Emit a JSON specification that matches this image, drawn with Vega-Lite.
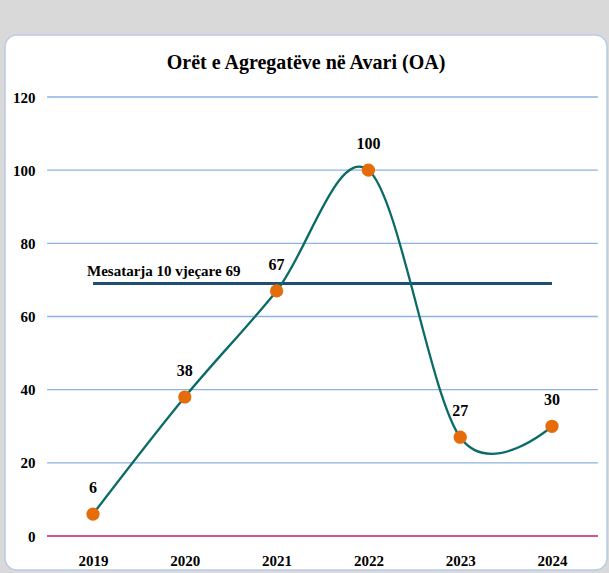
{
  "$schema": "https://vega.github.io/schema/vega-lite/v6.json",
  "width": 602,
  "height": 535,
  "autosize": {"type": "none"},
  "padding": {"left": 5, "top": 35, "right": 2, "bottom": 3},
  "background": "#d9d9d9",
  "view": {"fill": "#ffffff", "stroke": "#b8cce4", "strokeWidth": 1.5, "cornerRadius": 12},
  "config": {
    "font": "Liberation Serif",
    "axis": {"labelFont": "Liberation Serif", "labelFontWeight": "bold", "labelFontSize": 15, "labelColor": "#000000", "grid": false, "domain": false, "ticks": false, "tickSize": 0, "title": null}
  },
  "title": {
    "text": "Orët e Agregatëve në Avari (OA)",
    "font": "Liberation Serif",
    "fontSize": 20,
    "fontWeight": "bold",
    "color": "#000000",
    "anchor": "middle",
    "baseline": "alphabetic",
    "offset": -34,
    "dy": 20
  },
  "datasets": {
    "hours": [
      {"year": 2019, "value": 6},
      {"year": 2020, "value": 38},
      {"year": 2021, "value": 67},
      {"year": 2022, "value": 100},
      {"year": 2023, "value": 27},
      {"year": 2024, "value": 30}
    ],
    "grid": [{"g": 20}, {"g": 40}, {"g": 60}, {"g": 80}, {"g": 100}, {"g": 120}],
    "average": [{"label": "Mesatarja 10 vjeçare 69", "value": 69, "from": 2019, "to": 2024}]
  },
  "layer": [
    {
      "data": {"name": "grid"},
      "mark": {"type": "rule", "color": "#8db3e2", "strokeWidth": 1.3},
      "encoding": {
        "x": {"datum": 2018.5, "type": "quantitative", "scale": {"domain": [2018.0414, 2024.5991], "nice": false, "zero": false},
              "axis": {"orient": "bottom", "values": [2019, 2020, 2021, 2022, 2023, 2024], "format": "d", "title": null, "grid": false, "domain": false, "ticks": false, "labelBaseline": "alphabetic", "labelPadding": 0, "offset": -5, "labelFlush": false}},
        "x2": {"datum": 2024.5},
        "y": {"field": "g", "type": "quantitative", "scale": {"domain": [-9.29, 136.95], "nice": false, "zero": false},
              "axis": {"orient": "left", "values": [0, 20, 40, 60, 80, 100, 120], "title": null, "grid": false, "domain": false, "ticks": false, "labelPadding": 0, "offset": -30, "labelFlush": false}}
      }
    },
    {
      "data": {"name": "hours"},
      "mark": {"type": "rule", "color": "#d6558f", "strokeWidth": 1.6},
      "encoding": {
        "x": {"datum": 2018.5, "type": "quantitative"},
        "x2": {"datum": 2024.5},
        "y": {"datum": 0, "type": "quantitative"}
      }
    },
    {
      "data": {"name": "average"},
      "mark": {"type": "rule", "color": "#1f4e79", "strokeWidth": 3},
      "encoding": {
        "x": {"field": "from", "type": "quantitative"},
        "x2": {"field": "to"},
        "y": {"field": "value", "type": "quantitative"}
      }
    },
    {
      "data": {"name": "average"},
      "mark": {"type": "text", "align": "left", "baseline": "alphabetic", "dx": -6, "dy": -8, "fontSize": 15, "fontWeight": "bold", "font": "Liberation Serif", "color": "#000000"},
      "encoding": {
        "x": {"field": "from", "type": "quantitative"},
        "y": {"field": "value", "type": "quantitative"},
        "text": {"field": "label"}
      }
    },
    {
      "data": {"name": "hours"},
      "mark": {"type": "line", "interpolate": "cardinal", "tension": 0, "color": "#0b6b67", "strokeWidth": 2.3},
      "encoding": {
        "x": {"field": "year", "type": "quantitative"},
        "y": {"field": "value", "type": "quantitative"}
      }
    },
    {
      "data": {"name": "hours"},
      "mark": {"type": "point", "filled": true, "size": 175, "color": "#e46c0a", "opacity": 1},
      "encoding": {
        "x": {"field": "year", "type": "quantitative"},
        "y": {"field": "value", "type": "quantitative"}
      }
    },
    {
      "data": {"name": "hours"},
      "mark": {"type": "text", "dy": -26, "baseline": "middle", "fontSize": 16, "fontWeight": "bold", "font": "Liberation Serif", "color": "#000000"},
      "encoding": {
        "x": {"field": "year", "type": "quantitative"},
        "y": {"field": "value", "type": "quantitative"},
        "text": {"field": "value", "type": "quantitative"}
      }
    }
  ]
}
